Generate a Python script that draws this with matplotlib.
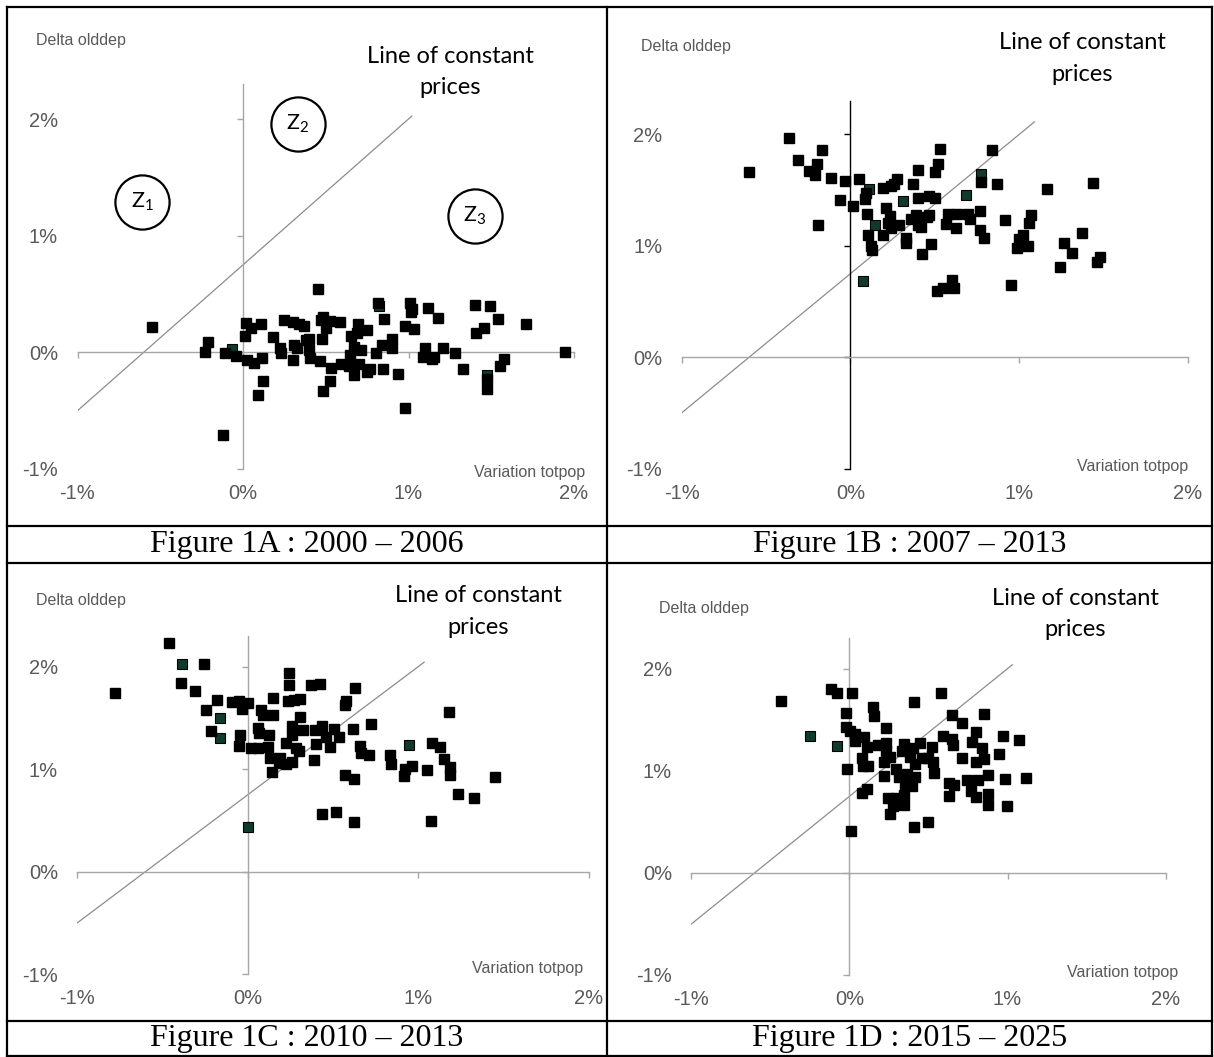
#!/usr/bin/env python3
import matplotlib
matplotlib.use("Agg")
import matplotlib.pyplot as plt

plt.rcParams["font.family"] = ["Liberation Sans", "DejaVu Sans"]
plt.rcParams["mathtext.fontset"] = "custom"
plt.rcParams["mathtext.rm"] = "Lato"

W, H, DPI = 1214, 1057, 100

# axes in percent
TICKS = [-1, 0, 1, 2]
TICK_LABELS = ["-1%", "0%", "1%", "2%"]
X_RANGE = (-1, 2)
Y_RANGE = (-1, 2.3)

# line of constant prices: y = intercept + slope * x
LINE_SLOPE = 1.25
LINE_INTERCEPT = 0.75
LINE_START = -1.0

CAPTIONS = [
    "Figure 1A : 2000 – 2006",
    "Figure 1B : 2007 – 2013",
    "Figure 1C : 2010 – 2013",
    "Figure 1D : 2015 – 2025",
]

# Figure 1A : 2000 - 2006
A_X = [-0.547, -0.210, -0.227, -0.106, -0.045, -0.120, 0.020, 0.051, 0.010, 0.110, 0.022, 0.069,
       0.112, 0.118, 0.090, 0.180, 0.245, 0.302, 0.337, 0.371, 0.224, 0.229, 0.306, 0.327, 0.378,
       0.398, 0.398, 0.404, 0.302, 0.455, 0.482, 0.469, 0.502, 0.527, 0.586, 0.480, 0.467, 0.531,
       0.524, 0.482, 0.592, 0.643, 0.694, 0.690, 0.653, 0.751, 0.673, 0.710, 0.649, 0.698, 0.669,
       0.751, 0.765, 0.816, 0.849, 0.837, 0.806, 0.843, 0.902, 0.898, 0.939, 0.978, 1.010, 1.020,
       1.014, 0.980, 1.031, 1.118, 1.178, 1.102, 1.086, 1.139, 1.153, 1.208, 1.280, 1.327, 1.400,
       1.490, 1.539, 1.406, 1.459, 1.712, 1.943, 1.576, 1.551, 1.473, 1.473]
A_Y = [0.214, 0.085, 0.003, -0.006, -0.034, -0.712, 0.248, 0.205, 0.140, 0.239, -0.068, -0.088,
       -0.046, -0.248, -0.362, 0.128, 0.279, 0.262, 0.239, 0.222, 0.034, -0.003, 0.060, 0.034, 0.103,
       0.114, 0.020, -0.051, -0.066, 0.541, 0.305, 0.276, 0.205, 0.268, 0.256, 0.114, -0.077, -0.137,
       -0.245, -0.330, -0.100, -0.114, 0.242, 0.162, 0.140, 0.191, 0.048, 0.020, -0.023, -0.100, -0.197,
       -0.165, -0.145, 0.427, 0.285, 0.063, -0.003, -0.142, 0.111, 0.040, -0.185, -0.473, 0.427, 0.370,
       0.342, 0.228, 0.199, 0.376, 0.296, 0.040, -0.037, -0.060, -0.037, 0.034, -0.009, -0.142, 0.405,
       0.396, 0.285, 0.162, 0.205, 0.239, 0.003, -0.060, -0.117, -0.225, -0.313]
A_GREEN_X = [-0.065, 0.820, 1.473]
A_GREEN_Y = [0.026, 0.396, -0.197]

# Figure 1B : 2007 - 2013
B_X = [-0.604, -0.363, -0.171, -0.310, -0.198, -0.247, -0.210, -0.114, -0.035, -0.063, -0.192, 0.051,
       0.014, 0.090, 0.084, 0.100, 0.104, 0.124, 0.129, 0.194, 0.239, 0.259, 0.276, 0.371, 0.402,
       0.402, 0.208, 0.235, 0.222, 0.194, 0.239, 0.286, 0.329, 0.331, 0.357, 0.388, 0.418, 0.402,
       0.422, 0.478, 0.463, 0.467, 0.500, 0.498, 0.520, 0.533, 0.576, 0.569, 0.633, 0.627, 0.698,
       0.708, 0.765, 0.769, 0.790, 0.776, 0.841, 0.871, 0.914, 0.988, 0.998, 1.024, 1.051, 1.059,
       1.071, 1.165, 1.267, 1.310, 1.369, 1.243, 1.439, 1.478, 1.463, 0.951, 0.510, 0.549, 0.602,
       0.614, 0.453]
B_Y = [1.662, 1.967, 1.862, 1.772, 1.737, 1.674, 1.635, 1.608, 1.584, 1.413, 1.183, 1.599,
       1.359, 1.476, 1.416, 1.287, 1.093, 1.000, 0.958, 1.521, 1.533, 1.557, 1.596, 1.551, 1.683,
       1.425, 1.341, 1.266, 1.204, 1.099, 1.159, 1.183, 1.069, 1.024, 1.237, 1.272, 1.168, 1.183,
       0.928, 1.012, 1.272, 1.443, 1.431, 1.662, 1.737, 1.871, 1.287, 1.192, 1.287, 1.162, 1.287,
       1.240, 1.311, 1.138, 1.069, 1.572, 1.862, 1.557, 1.234, 0.982, 1.057, 1.099, 0.994, 1.207,
       1.278, 1.512, 1.027, 0.937, 1.111, 0.808, 1.560, 0.901, 0.850, 0.650, 0.590, 0.623, 0.689,
       0.620, 1.257]
B_GREEN_X = [0.108, 0.147, 0.076, 0.310, 0.682, 0.776]
B_GREEN_Y = [1.512, 1.189, 0.680, 1.401, 1.458, 1.641]

# Figure 1C : 2010 - 2013
C_X = [-0.461, -0.259, -0.782, -0.394, -0.311, -0.182, -0.248, -0.216, -0.095, -0.051, 0.000, -0.036,
       -0.046, -0.053, 0.018, 0.061, 0.121, 0.127, 0.063, 0.065, 0.075, 0.087, 0.149, 0.149, 0.131,
       0.145, 0.192, 0.222, 0.257, 0.226, 0.257, 0.283, 0.303, 0.307, 0.259, 0.323, 0.244, 0.244,
       0.236, 0.273, 0.307, 0.374, 0.424, 0.388, 0.398, 0.392, 0.438, 0.457, 0.483, 0.509, 0.537,
       0.572, 0.576, 0.632, 0.618, 0.721, 0.661, 0.667, 0.713, 0.572, 0.626, 0.438, 0.515, 0.624,
       0.834, 0.842, 0.919, 0.964, 1.051, 1.077, 1.081, 1.131, 1.184, 1.152, 1.188, 1.188, 1.234,
       1.329, 1.453, 0.925, 0.186]
C_Y = [2.228, 2.026, 1.746, 1.837, 1.762, 1.680, 1.576, 1.370, 1.657, 1.664, 1.641, 1.592,
       1.338, 1.223, 1.210, 1.207, 1.217, 1.331, 1.406, 1.357, 1.582, 1.527, 1.697, 1.527, 1.106,
       0.972, 1.113, 1.054, 1.070, 1.256, 1.331, 1.207, 1.178, 1.511, 1.426, 1.380, 1.935, 1.821,
       1.664, 1.674, 1.683, 1.821, 1.827, 1.093, 1.243, 1.387, 1.419, 1.315, 1.217, 1.396, 1.315,
       1.625, 1.664, 1.791, 1.393, 1.439, 1.227, 1.162, 1.135, 0.940, 0.907, 0.558, 0.581, 0.480,
       1.135, 1.054, 0.930, 1.028, 0.995, 0.489, 1.259, 1.217, 1.560, 1.100, 1.021, 0.940, 0.760,
       0.718, 0.927, 1.005, 1.060]
C_GREEN_X = [-0.384, -0.162, -0.164, 0.000, 0.949]
C_GREEN_Y = [2.029, 1.504, 1.305, 0.434, 1.240]

# Figure 1D : 2015 - 2025
D_X = [-0.432, -0.118, -0.080, 0.019, -0.019, -0.019, 0.006, 0.034, 0.034, 0.093, 0.108, -0.015,
       0.011, 0.150, 0.154, 0.230, 0.082, 0.087, 0.118, 0.112, 0.082, 0.179, 0.230, 0.234, 0.259,
       0.217, 0.219, 0.293, 0.314, 0.335, 0.348, 0.403, 0.382, 0.416, 0.449, 0.498, 0.519, 0.530,
       0.534, 0.367, 0.352, 0.395, 0.245, 0.293, 0.344, 0.344, 0.276, 0.255, 0.409, 0.496, 0.409,
       0.580, 0.648, 0.713, 0.593, 0.646, 0.652, 0.713, 0.631, 0.662, 0.631, 0.745, 0.810, 0.772,
       0.800, 0.878, 0.878, 0.878, 0.774, 0.838, 0.800, 0.850, 0.800, 0.850, 0.945, 0.973, 1.072,
       0.985, 0.998, 1.114, 0.462, 0.414]
D_Y = [1.679, 1.805, 1.765, 1.759, 1.567, 1.428, 1.385, 1.362, 1.296, 1.329, 1.236, 1.021,
       0.413, 1.626, 1.534, 1.415, 1.124, 1.048, 1.048, 0.826, 0.780, 1.253, 1.269, 1.197, 1.137,
       1.088, 0.949, 1.015, 0.939, 1.190, 1.263, 1.223, 1.137, 1.064, 1.273, 1.124, 1.230, 1.081,
       0.975, 0.965, 0.860, 0.850, 0.734, 0.734, 0.760, 0.668, 0.651, 0.579, 0.453, 0.502, 1.676,
       1.759, 1.550, 1.471, 1.339, 1.312, 1.253, 1.121, 0.883, 0.860, 0.757, 0.906, 0.912, 0.800,
       0.747, 0.959, 0.774, 0.668, 1.279, 1.226, 1.382, 1.554, 1.088, 1.111, 1.164, 1.345, 1.306,
       0.916, 0.658, 0.932, 1.121, 0.939]
D_GREEN_X = [-0.251, -0.080]
D_GREEN_Y = [1.342, 1.243]

# zones drawn on figure 1A
ZONE_NAMES = ["1", "2", "3"]
ZONE_X = [-0.61, 0.33, 1.40]
ZONE_Y = [1.29, 1.96, 1.17]

SERIES = [
    (A_X, A_Y, A_GREEN_X, A_GREEN_Y),
    (B_X, B_Y, B_GREEN_X, B_GREEN_Y),
    (C_X, C_Y, C_GREEN_X, C_GREEN_Y),
    (D_X, D_Y, D_GREEN_X, D_GREEN_Y),
]

# layout in pixels: plot box (left, top, right, bottom), axis titles, note centre
LAYOUT = [
    dict(box=(77.5, 84, 574, 469), ytitle=(36, 41), xtitle=(585, 473), note=(450, 72),
         ycolor="#a6a6a6", line_end=1.02),
    dict(box=(681.7, 101, 1188, 468.5), ytitle=(641, 47), xtitle=(1188, 467), note=(1082, 58.5),
         ycolor="black", line_end=1.09),
    dict(box=(77.4, 636, 588.5, 974), ytitle=(36, 601), xtitle=(583, 968), note=(478.6, 611.5),
         ycolor="#a6a6a6", line_end=1.035),
    dict(box=(691.4, 638, 1165.6, 975), ytitle=(659, 608), xtitle=(1178, 973), note=(1075, 614),
         ycolor="#a6a6a6", line_end=1.03),
]

TABLE_COLS = [7, 607, 1212]
TABLE_ROWS = [7, 526, 563, 1021, 1056]

AXIS_GRAY = "#a6a6a6"
TEXT_GRAY = "#595959"


def draw_panel(fig, spec, series):
    x0, y0, x1, y1 = spec["box"]
    ax = fig.add_axes([x0 / W, 1 - y1 / H, (x1 - x0) / W, (y1 - y0) / H])
    ax.set_xlim(X_RANGE)
    ax.set_ylim(Y_RANGE)
    ax.patch.set_alpha(0)
    ax.spines["top"].set_visible(False)
    ax.spines["right"].set_visible(False)
    ax.spines["left"].set_position(("data", 0))
    ax.spines["bottom"].set_position(("data", 0))
    ax.spines["left"].set_color(spec["ycolor"])
    ax.spines["bottom"].set_color(AXIS_GRAY)
    ax.spines["left"].set_linewidth(1.0)
    ax.spines["bottom"].set_linewidth(1.0)
    ax.set_xticks(TICKS)
    ax.set_yticks(TICKS)
    ax.tick_params(axis="x", direction="out", length=4, width=1.0, color=AXIS_GRAY, labelbottom=False)
    ax.tick_params(axis="y", direction="out", length=4, width=1.0, color=spec["ycolor"], labelleft=False)

    # tick labels sit on the plot edges, Excel "low" style
    sx = ax.secondary_xaxis(0)
    sx.set_xticks(TICKS, labels=TICK_LABELS)
    sx.tick_params(length=0, pad=11, labelsize=14.5, labelcolor=TEXT_GRAY)
    sy = ax.secondary_yaxis(0)
    sy.set_yticks(TICKS, labels=TICK_LABELS)
    sy.tick_params(length=0, pad=14, labelsize=14.5, labelcolor=TEXT_GRAY)
    for sec in (sx, sy):
        for sp in sec.spines.values():
            sp.set_visible(False)

    line_x = [LINE_START, spec["line_end"]]
    line_y = [LINE_INTERCEPT + LINE_SLOPE * v for v in line_x]
    ax.plot(line_x, line_y, color="#8c8c8c", lw=0.9, zorder=2)

    xs, ys, gx, gy = series
    ax.plot(gx, gy, "s", ms=6.5, mfc="#0f3b2c", mec="black", mew=0.8, ls="none", zorder=3)
    ax.plot(xs, ys, "s", ms=6.5, color="black", ls="none", zorder=4)

    fig.text(spec["ytitle"][0] / W, 1 - spec["ytitle"][1] / H, "Delta olddep",
             ha="left", va="center", fontsize=11.5, color=TEXT_GRAY)
    fig.text(spec["xtitle"][0] / W, 1 - spec["xtitle"][1] / H, "Variation totpop",
             ha="right", va="center", fontsize=11.5, color=TEXT_GRAY)
    fig.text(spec["note"][0] / W, 1 - spec["note"][1] / H, "Line of constant\nprices",
             ha="center", va="center", ma="center", fontsize=17, family="Lato",
             linespacing=1.6, color="black")
    return ax


def main():
    fig = plt.figure(figsize=(W / DPI, H / DPI), dpi=DPI)

    axes = [draw_panel(fig, spec, series) for spec, series in zip(LAYOUT, SERIES)]

    ax_a = axes[0]
    ax_a.plot(ZONE_X, ZONE_Y, "o", ms=39, mfc="white", mec="black", mew=1.6, ls="none",
              zorder=5, clip_on=False)
    for name, zx, zy in zip(ZONE_NAMES, ZONE_X, ZONE_Y):
        ax_a.text(zx, zy, "Z$_\\mathrm{" + name + "}$", ha="center", va="center",
                  fontsize=15.5, family="Lato", zorder=6)

    # table grid and captions
    frame = fig.add_axes([0, 0, 1, 1], zorder=-1)
    frame.set_xlim(0, W)
    frame.set_ylim(H, 0)
    frame.axis("off")
    for r in TABLE_ROWS:
        frame.plot([TABLE_COLS[0], TABLE_COLS[-1]], [r, r], color="black", lw=1.6)
    for c in TABLE_COLS:
        frame.plot([c, c], [TABLE_ROWS[0], TABLE_ROWS[-1]], color="black", lw=1.6)
    cap_rows = [(TABLE_ROWS[1] + TABLE_ROWS[2]) / 2, (TABLE_ROWS[3] + TABLE_ROWS[4]) / 2]
    cap_cols = [(TABLE_COLS[0] + TABLE_COLS[1]) / 2, (TABLE_COLS[1] + TABLE_COLS[2]) / 2]
    for i, cap in enumerate(CAPTIONS):
        frame.text(cap_cols[i % 2], cap_rows[i // 2], cap, ha="center", va="center",
                   fontsize=23, family="Liberation Serif", color="black")

    fig.savefig("out.png", dpi=DPI)
    plt.close(fig)


if __name__ == "__main__":
    main()
